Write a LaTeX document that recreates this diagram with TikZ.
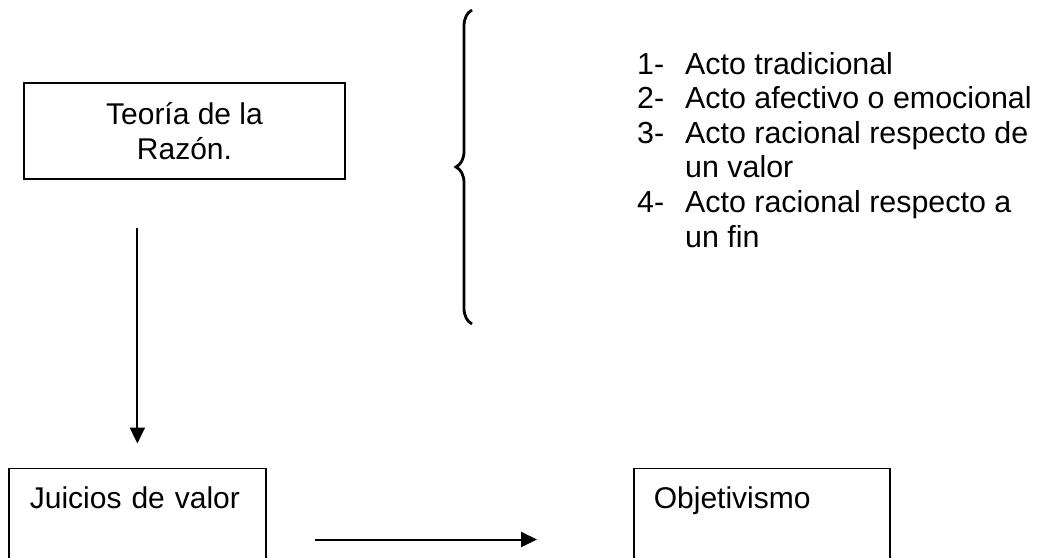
\documentclass[tikz,border=0pt]{standalone}
\usepackage{fontspec}
\setmainfont{Liberation Sans}
\usetikzlibrary{arrows.meta}
\usetikzlibrary{decorations.pathreplacing}

\newcommand{\numero}[1]{\makebox[48pt][l]{#1}}

\begin{document}
\begin{tikzpicture}[x=1pt, y=-1pt] % units as pixels, y grows downwards
    \tikzstyle{caja}=[draw, line width=1.7pt, inner sep=0pt, font=\fontsize{30}{34.6}\selectfont]
    \tikzstyle{flecha}=[line width=2pt, -{Triangle[length=16pt, width=15pt]}]
    \useasboundingbox (0,0) rectangle (1038,557);

    \node[caja, minimum width=321pt, minimum height=96pt, align=center] (teoria) at (184.5,131) {Teoría de la\\Razón.};
    % Boxes at the bottom, cut by the page edge
    \node[caja, anchor=north west, align=left, inner xsep=21pt, text width=215pt, text height=40pt, text depth=100pt] (juicios) at (8,467.5) {Juicios de valor};
    \node[caja, anchor=north west, align=left, inner xsep=20pt, text width=216pt, text height=40pt, text depth=100pt] (objetivismo) at (633,467.5) {Objetivismo};

    \draw[flecha, shorten <=48pt, shorten >=24pt] (juicios.north |- teoria.south) -- (juicios.north);
    \draw[flecha, shorten <=48pt, shorten >=96pt] ([yshift=-72pt]juicios.north east) -- ([yshift=-72pt]objetivismo.north west);

    % Brace and the list of acts
    \coordinate (llave-sup) at (472,10);
    \coordinate (llave-inf) at (472,324);
    \draw[line width=2.8pt, decorate, decoration={brace, amplitude=16pt}] (llave-inf) -- (llave-sup);

    \node[font=\fontsize{30.4}{34.6}\selectfont, align=left, anchor=base west, inner sep=0pt] (lista) at (637,247) {% base = last line
        \numero{1-}Acto tradicional\\
        \numero{2-}Acto afectivo o emocional\\
        \numero{3-}Acto racional respecto de\\
        \numero{}un valor\\
        \numero{4-}Acto racional respecto a\\
        \numero{}un fin};
\end{tikzpicture}
\end{document}
